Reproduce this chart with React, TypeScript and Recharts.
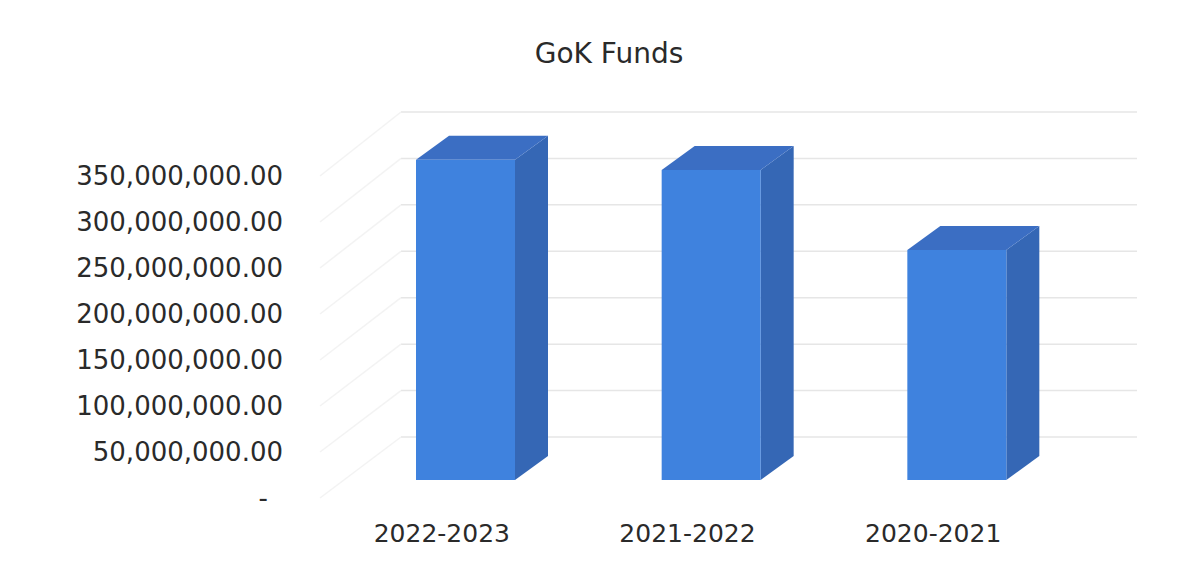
import React from "react";
import { BarChart, Bar, XAxis, YAxis, CartesianGrid } from "recharts";

const categories = ["2022-2023", "2021-2022", "2020-2021"];
const fundValues = [348000000, 337000000, 250000000];
const yTicks = [0, 50000000, 100000000, 150000000, 200000000, 250000000, 300000000, 350000000];

const data = categories.map((year, i) => ({ year, funds: fundValues[i] }));

// depth of a bar and of the whole "room" behind the front plane
const BAR_DX = 33;
const BAR_DY = -24;
const WALL_DX = 58;

const FONT = "'DejaVu Sans', Verdana, sans-serif";

function Box3D(props: any) {
  const { x, y, width, height } = props;
  const x2 = x + width;
  const y2 = y + height;
  const top = `${x},${y} ${x2},${y} ${x2 + BAR_DX},${y + BAR_DY} ${x + BAR_DX},${y + BAR_DY}`;
  const side = `${x2},${y} ${x2 + BAR_DX},${y + BAR_DY} ${x2 + BAR_DX},${y2 + BAR_DY} ${x2},${y2}`;
  return (
    <g>
      <polygon points={side} fill="#3567b5" />
      <polygon points={top} fill="#3b6ec3" />
      <rect x={x} y={y} width={width} height={height} fill="#3f82de" />
    </g>
  );
}

function WallLine(props: any) {
  const { x1, x2, y1 } = props;
  // back wall sits a little higher the further up it goes (slight perspective)
  const dy = -43 - ((480 - y1) / 322) * 3;
  const by = y1 + dy;
  return (
    <g key={props.key}>
      <line x1={x1 + WALL_DX} y1={by} x2={x2 + 57} y2={by} stroke="#e6e6e6" strokeWidth={1.5} />
      <line x1={x1 + WALL_DX} y1={by} x2={320} y2={y1 + 18} stroke="#f3f3f3" strokeWidth={1.5} />
    </g>
  );
}

function YTick(props: any) {
  const { y, payload } = props;
  const v = payload.value;
  if (v === 0) {
    return (
      <text x={268} y={y + 18} textAnchor="end" dominantBaseline="central" fontFamily={FONT} fontSize={26} fill="#2a2a2a">
        -
      </text>
    );
  }
  const label = v.toLocaleString("en-US", { minimumFractionDigits: 2, maximumFractionDigits: 2 });
  return (
    <text x={283} y={y + 18} textAnchor="end" dominantBaseline="central" fontFamily={FONT} fontSize={26} fill="#2a2a2a">
      {label}
    </text>
  );
}

function XTick(props: any) {
  const { x, payload } = props;
  return (
    <text x={x - 24} y={533} textAnchor="middle" dominantBaseline="central" fontFamily={FONT} fontSize={25} fill="#2a2a2a">
      {payload.value}
    </text>
  );
}

export default function App() {
  return (
    <div style={{ position: "absolute", left: 0, top: 0, width: 1198, height: 566, background: "#fff" }}>
      <div
        style={{
          position: "absolute",
          left: 0,
          top: 37,
          width: 1218,
          textAlign: "center",
          fontFamily: FONT,
          fontSize: 28,
          color: "#2a2a2a",
        }}
      >
        GoK Funds
      </div>
      <BarChart
        width={1198}
        height={566}
        data={data}
        margin={{ top: 158, right: 118, left: 283, bottom: 46 }}
      >
        <CartesianGrid vertical={false} horizontal={WallLine} />
        <XAxis
          dataKey="year"
          height={40}
          axisLine={false}
          tickLine={false}
          tickSize={0}
          tickMargin={0}
          tick={XTick}
        />
        <YAxis
          width={60}
          domain={[0, 350000000]}
          ticks={yTicks}
          axisLine={false}
          tickLine={false}
          tick={YTick}
        />
        <Bar dataKey="funds" barSize={99} isAnimationActive={false} shape={Box3D} />
      </BarChart>
    </div>
  );
}
